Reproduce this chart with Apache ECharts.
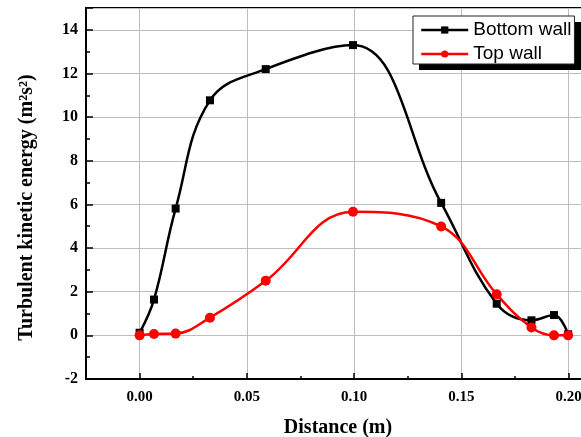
<!DOCTYPE html>
<html>
<head>
<meta charset="utf-8">
<script src="https://cdn.jsdelivr.net/npm/echarts@6/dist/echarts.min.js"></script>
<style>html,body{margin:0;padding:0;background:#fff}#c{width:581px;height:437px}</style>
</head>
<body>
<div id="c"></div>
<script>
const distance = [0.0, 0.0067, 0.0168, 0.0328, 0.0588, 0.0995, 0.1406, 0.1665, 0.1827, 0.1932, 0.1998];
const bottomWall = [0.12, 1.64, 5.81, 10.77, 12.2, 13.3, 6.07, 1.45, 0.69, 0.93, 0.05];
const topWall = [0.0, 0.06, 0.08, 0.81, 2.5, 5.66, 4.99, 1.88, 0.36, 0.0, 0.0];
const seriesNames = ['Bottom wall', 'Top wall'];
const xTitle = 'Distance (m)';
const yTitle = 'Turbulent kinetic energy (m²s²)';

const pair = (xs, ys) => xs.map((x, i) => [x, ys[i]]);
const chart = echarts.init(document.getElementById('c'), null, {renderer: 'canvas'});
const serif = '"Liberation Serif", "Times New Roman", serif';
chart.setOption({
  animation: false,
  graphic: [
    {type: 'rect', z: 1, shape: {x: 419, y: 22, width: 162, height: 48}, style: {fill: '#000'}}
  ],
  grid: {left: 86, top: 8, bottom: 58, right: -9, show: true, borderColor: '#000', borderWidth: 2,
         backgroundColor: 'transparent', outerBoundsMode: 'none', containLabel: false},
  legend: {
    z: 5,
    orient: 'vertical', left: 413, top: 16,
    itemWidth: 47, itemHeight: 9, itemGap: 4,
    padding: [4, 3, 0, 7],
    backgroundColor: '#fff', borderColor: '#222', borderWidth: 1,
    lineStyle: {width: 2.5},
    textStyle: {fontFamily: '"Liberation Sans", Arial, sans-serif', fontSize: 19, lineHeight: 20, color: '#000'},
    data: seriesNames
  },
  xAxis: {
    type: 'value', min: -0.025, max: 0.21, splitNumber: 5,
    name: xTitle, nameLocation: 'middle', nameGap: 39,
    nameTextStyle: {fontFamily: serif, fontWeight: 'bold', fontSize: 20, color: '#000'},
    axisLine: {onZero: false, lineStyle: {color: '#000', width: 2}},
    axisTick: {inside: true, length: 6, lineStyle: {color: '#000', width: 1.5}},
    minorTick: {show: true, splitNumber: 2, length: 3, lineStyle: {color: '#000', width: 1.5}},
    axisLabel: {margin: 11, fontFamily: serif, fontWeight: 'bold', fontSize: 15, color: '#000',
      formatter: v => (Math.abs(Math.round(v / 0.05) * 0.05 - v) < 1e-9 && v >= 0 && v <= 0.2) ? v.toFixed(2) : ''},
    splitLine: {show: true, lineStyle: {color: '#bdbdbd', width: 1}}
  },
  yAxis: {
    type: 'value', min: -2, max: 15, interval: 2,
    name: yTitle, nameLocation: 'middle', nameGap: 49,
    nameTextStyle: {fontFamily: serif, fontWeight: 'bold', fontSize: 20, color: '#000', padding: [0, 28, 0, 0]},
    axisLine: {onZero: false, lineStyle: {color: '#000', width: 2}},
    axisTick: {inside: true, length: 7, lineStyle: {color: '#000', width: 1.5}},
    minorTick: {show: true, splitNumber: 2, length: 4, lineStyle: {color: '#000', width: 1.5}},
    axisLabel: {margin: 8, fontFamily: serif, fontWeight: 'bold', fontSize: 16, color: '#000',
      formatter: v => (v % 2 === 0) ? String(v) : ''},
    splitLine: {show: true, lineStyle: {color: '#bdbdbd', width: 1}}
  },
  series: [
    {name: seriesNames[0], type: 'line', data: pair(distance, bottomWall), smooth: 0.4,
     symbol: 'rect', symbolSize: 8, showAllSymbol: true,
     lineStyle: {color: '#000', width: 2.5}, itemStyle: {color: '#000'}},
    {name: seriesNames[1], type: 'line', data: pair(distance, topWall), smooth: 0.4,
     symbol: 'circle', symbolSize: 10, showAllSymbol: true,
     lineStyle: {color: '#ff0000', width: 2.5}, itemStyle: {color: '#ff0000'}}
  ]
});
</script>
</body>
</html>
